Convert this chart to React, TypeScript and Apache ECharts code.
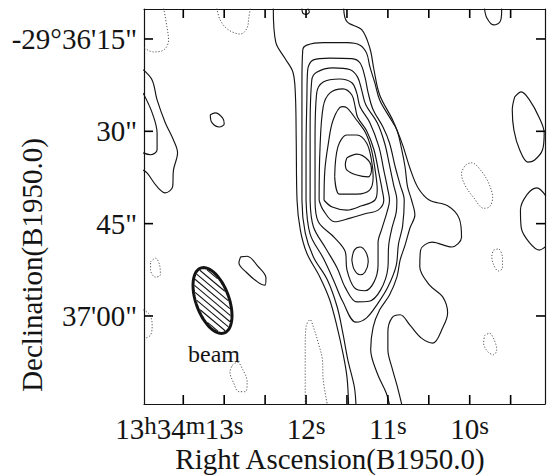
import React, { useEffect, useRef } from "react";
import * as echarts from "echarts";

// x: right ascension, seconds of time after 13h34m ; y: arcsec south of -29°36'00"
const raTicks = [9.5, 10, 10.5, 11, 11.5, 12, 12.5, 13, 13.5];
const raLabelValues = [10, 11, 12, 13];
const raPrefixValue = 13;
const decTicks = [15, 30, 45, 60];
const decLabels = ["-29°36'15\"", "30\"", "45\"", "37'00\""];

// positive (solid) contours
const westRidge1 = [[12.40,10.0],[12.37,15.5],[12.26,18.1],[12.16,20.4],[12.13,24.1],[12.12,31.4],[12.11,41.2],[12.07,46.0],[11.99,49.8],[11.83,53.7],[11.71,57.4],[11.62,61.8],[11.55,66.0],[11.50,69.9],[11.48,74.4]];
const eastRidge1 = [[11.54,10.0],[11.50,12.2],[11.32,13.5],[11.22,16.5],[11.17,20.0],[11.10,24.1],[10.94,28.2],[10.82,32.2],[10.73,36.0],[10.63,39.2],[10.49,41.2],[10.27,42.1],[10.13,44.1],[10.10,47.2],[10.22,48.8],[10.46,48.0],[10.60,49.3],[10.61,52.0],[10.49,55.0],[10.33,56.9],[10.27,59.5],[10.33,61.9],[10.45,64.4],[10.59,63.6],[10.73,61.5],[10.85,59.8],[10.95,60.3],[11.00,62.6],[11.00,65.5],[10.95,68.4],[10.89,71.2],[10.83,74.4]];
const ridge2 = [[11.39,74.4],[11.41,71.5],[11.49,67.1],[11.55,62.8],[11.62,58.5],[11.74,54.1],[11.91,50.4],[12.01,46.5],[12.05,41.2],[12.05,30.3],[12.05,22.1],[12.04,16.8],[11.99,16.0],[11.79,15.6],[11.50,15.6],[11.34,16.0],[11.26,17.3],[11.22,19.5],[11.16,22.1],[11.10,24.9],[10.98,27.7],[10.89,29.8],[10.83,33.0],[10.79,35.8],[10.76,39.0],[10.71,41.2],[10.67,43.6],[10.73,45.7],[10.79,48.5],[10.85,50.9],[10.89,53.7],[10.98,56.6],[11.10,59.0],[11.18,61.8],[11.21,65.5],[11.13,69.3],[11.02,72.5],[10.98,74.4]];
const level3 = [[12.00,41.2],[12.00,33.0],[11.99,24.9],[11.98,20.0],[11.91,18.4],[11.71,18.1],[11.44,18.2],[11.34,18.9],[11.28,21.2],[11.24,23.8],[11.18,26.5],[11.06,29.3],[10.98,31.9],[10.91,35.8],[10.85,38.7],[10.80,41.2],[10.82,45.4],[10.87,48.3],[10.90,51.9],[11.00,55.3],[11.12,57.9],[11.26,60.3],[11.39,61.0],[11.55,57.7],[11.66,54.3],[11.79,50.6],[11.95,46.7]];
const level4 = [[11.95,41.2],[11.95,29.8],[11.93,21.7],[11.87,20.4],[11.67,19.7],[11.46,20.0],[11.37,21.2],[11.32,23.3],[11.27,25.7],[11.13,28.6],[11.04,31.9],[10.98,35.5],[10.93,38.7],[10.89,41.2],[10.90,43.3],[10.95,45.7],[10.99,48.5],[11.00,52.2],[11.09,55.8],[11.23,57.6],[11.38,57.7],[11.52,55.4],[11.62,52.2],[11.76,49.0],[11.91,45.5]];
const level5 = [[11.89,41.2],[11.89,31.4],[11.87,23.8],[11.79,22.0],[11.59,21.5],[11.44,22.1],[11.38,23.8],[11.34,26.0],[11.22,28.6],[11.11,32.5],[11.05,36.3],[11.00,39.5],[10.98,41.2],[11.01,43.1],[11.07,45.7],[11.12,48.1],[11.12,51.7],[11.17,54.5],[11.28,55.9],[11.41,55.4],[11.50,52.5],[11.52,49.6],[11.65,47.3],[11.85,44.7]];
const level6 = [[11.84,41.2],[11.83,33.0],[11.79,26.0],[11.71,23.8],[11.55,23.1],[11.44,24.1],[11.40,26.0],[11.37,27.7],[11.26,29.9],[11.17,33.0],[11.11,36.8],[11.07,39.5],[11.05,41.2],[11.12,42.8],[11.28,43.4],[11.46,44.1],[11.65,44.7],[11.79,42.8]];
const level7 = [[11.78,41.2],[11.77,36.3],[11.73,32.2],[11.67,28.2],[11.56,26.0],[11.50,26.2],[11.38,28.2],[11.27,30.3],[11.20,33.0],[11.15,36.8],[11.13,39.5],[11.16,41.2],[11.32,42.1],[11.50,42.8],[11.68,42.3]];
const level8 = [[11.65,37.4],[11.61,32.5],[11.50,30.6],[11.38,30.6],[11.26,31.9],[11.20,34.7],[11.18,37.4],[11.22,39.5],[11.38,40.2],[11.59,40.2]];
const level9 = [[11.50,34.3],[11.38,33.7],[11.24,34.7],[11.20,36.3],[11.24,37.4],[11.38,37.1],[11.50,36.3],[11.52,35.3]];
const secondPeak = [[11.44,50.9],[11.41,49.3],[11.34,48.8],[11.27,49.6],[11.24,51.2],[11.28,52.9],[11.34,53.3],[11.41,52.5]];
const edgeWestOuter = [[13.99,20.0],[13.88,21.7],[13.82,24.9],[13.72,28.6],[13.62,31.4],[13.57,33.5],[13.62,36.3],[13.63,39.0],[13.72,40.0],[13.82,39.0],[13.94,36.8],[13.99,36.3]];
const edgeWestInner = [[13.99,23.8],[13.88,27.0],[13.82,30.3],[13.82,33.0],[13.90,33.8],[13.99,33.5]];
const knotNW = [[13.17,27.3],[13.11,27.0],[13.02,27.8],[13.00,28.8],[13.06,29.3],[13.15,28.6]];
const knotSW = [[12.80,50.4],[12.72,50.3],[12.59,51.9],[12.49,53.8],[12.50,55.0],[12.59,54.5],[12.73,52.9],[12.82,51.4]];
const capNE = [[9.82,10.0],[9.79,11.6],[9.71,12.7],[9.63,12.2],[9.61,10.6],[9.61,10.0]];
const loopEast = [[9.45,24.4],[9.37,23.6],[9.27,24.9],[9.15,27.8],[9.09,30.3],[9.11,33.0],[9.21,34.7],[9.29,35.0],[9.39,33.0],[9.46,29.8],[9.48,26.5]];
const arcEast = [[9.07,40.5],[9.18,39.2],[9.30,40.3],[9.38,42.8],[9.37,45.7],[9.27,48.1],[9.15,49.3],[9.07,48.7]];
const knotTop = [[12.05,10.0],[12.04,10.8],[12.00,11.0],[11.96,10.6],[11.98,10.0]];

// negative (dotted) contours
const negNW = [[13.74,10.0],[13.70,13.0],[13.68,15.2],[13.74,16.8],[13.87,17.1],[13.99,16.3]];
const negNorth = [[13.09,10.0],[13.05,11.9],[12.95,13.5],[12.80,14.2],[12.72,13.2],[12.70,11.6],[12.68,10.0]];
const negWest1 = [[13.90,51.2],[13.84,50.6],[13.79,51.7],[13.78,53.3],[13.84,53.7],[13.90,52.5]];
const negWest2 = [[13.99,59.0],[13.91,59.8],[13.88,61.5],[13.90,63.1],[13.96,63.6]];
const negSouth = [[12.90,68.0],[12.84,67.5],[12.77,68.8],[12.72,70.7],[12.74,72.3],[12.82,72.3],[12.89,70.7],[12.93,69.1]];
const negStreak = [[12.01,74.4],[12.01,65.5],[12.00,61.8],[11.95,60.6],[11.91,61.8],[11.85,64.4],[11.80,67.1],[11.79,70.4],[11.74,74.4]];
const negEast = [[10.05,35.5],[9.98,35.1],[9.85,36.6],[9.76,38.7],[9.72,40.8],[9.76,42.3],[9.83,42.5],[9.95,40.8],[10.06,38.7],[10.10,36.8]];
const negEast2 = [[9.71,49.3],[9.65,49.1],[9.60,50.6],[9.60,52.2],[9.65,52.7],[9.71,51.6],[9.73,50.3]];
const negEast3 = [[9.82,63.2],[9.76,62.8],[9.70,63.9],[9.67,65.5],[9.71,66.3],[9.78,65.8],[9.83,64.4]];

const solidOpen = [westRidge1, eastRidge1, ridge2, edgeWestOuter, edgeWestInner, capNE, arcEast, knotTop];
const solidClosed = [level3, level4, level5, level6, level7, level8, level9, secondPeak, knotNW, knotSW, loopEast];
const dottedOpen = [negNW, negNorth, negWest2, negStreak];
const dottedClosed = [negWest1, negSouth, negEast, negEast2, negEast3];

const SERIF = "'Liberation Serif', 'Times New Roman', serif";
const INK = "#141414";
const RA_MIN = 9.08, RA_MAX = 13.98;
const DEC_MIN = 10.13, DEC_MAX = 74.3;
const DEC_STEP = 15;
const TICK_LEN = 9;

function buildSeries() {
  const out: any[] = [];
  const add = (pts: number[][], closed: boolean, dotted: boolean) => {
    out.push({
      type: "line",
      xAxisIndex: 0,
      yAxisIndex: 2,
      data: closed ? [...pts, pts[0]] : pts,
      symbol: "none",
      showSymbol: false,
      smooth: 0.35,
      silent: true,
      clip: true,
      lineStyle: dotted
        ? { color: "#555", width: 1, type: [1.2, 1.8] }
        : { color: INK, width: 1.15 },
    });
  };
  solidOpen.forEach((p) => add(p, false, false));
  solidClosed.forEach((p) => add(p, true, false));
  dottedOpen.forEach((p) => add(p, false, true));
  dottedClosed.forEach((p) => add(p, true, true));

  const tickStyle = () => ({ stroke: "#000", lineWidth: 1.6, fill: "none" });
  // inward ticks on the bottom and top frame lines, placed by the RA scale
  out.push({
    type: "custom",
    xAxisIndex: 0,
    yAxisIndex: 2,
    silent: true,
    clip: false,
    z: 10,
    data: raTicks.map((r) => [r, DEC_MIN]),
    renderItem: (params: any, api: any) => {
      const cs = params.coordSys;
      const x = api.coord([api.value(0), DEC_MIN])[0];
      return {
        type: "group",
        children: [
          { type: "line", shape: { x1: x, y1: cs.y, x2: x, y2: cs.y + TICK_LEN }, style: tickStyle() },
          { type: "line", shape: { x1: x, y1: cs.y + cs.height, x2: x, y2: cs.y + cs.height - TICK_LEN }, style: tickStyle() },
        ],
      };
    },
  });
  // inward ticks on the left and right frame lines, placed by the Dec scale
  out.push({
    type: "custom",
    xAxisIndex: 0,
    yAxisIndex: 2,
    silent: true,
    clip: false,
    z: 10,
    data: decTicks.map((d) => [RA_MAX, d]),
    renderItem: (params: any, api: any) => {
      const cs = params.coordSys;
      const y = api.coord([RA_MAX, api.value(1)])[1];
      return {
        type: "group",
        children: [
          { type: "line", shape: { x1: cs.x, y1: y, x2: cs.x + TICK_LEN, y2: y }, style: tickStyle() },
          { type: "line", shape: { x1: cs.x + cs.width, y1: y, x2: cs.x + cs.width - TICK_LEN, y2: y }, style: tickStyle() },
        ],
      };
    },
  });
  return out;
}

function beamGraphics() {
  const cx = 212.5, cy = 300.5, a = 34.5, b = 16.5;
  const tilt = (20 * Math.PI) / 180;
  const u = [Math.sin(tilt), Math.cos(tilt)];
  const v = [Math.cos(tilt), -Math.sin(tilt)];
  const pts: number[][] = [];
  for (let i = 0; i < 90; i++) {
    const t = (i / 90) * Math.PI * 2;
    const lx = b * Math.cos(t), ly = a * Math.sin(t);
    pts.push([cx + lx * v[0] + ly * u[0], cy + lx * v[1] + ly * u[1]]);
  }
  const els: any[] = [];
  const ang = (40 * Math.PI) / 180;
  const d = [Math.cos(ang), Math.sin(ang)];
  const n = [-Math.sin(ang), Math.cos(ang)];
  const ai = a - 1.6, bi = b - 1.6;
  const nv = n[0] * v[0] + n[1] * v[1], dv = d[0] * v[0] + d[1] * v[1];
  const nu = n[0] * u[0] + n[1] * u[1], du = d[0] * u[0] + d[1] * u[1];
  const sp = 5.0;
  for (let k = -7; k <= 7; k++) {
    const o = k * sp;
    const A = (dv * dv) / (bi * bi) + (du * du) / (ai * ai);
    const B = 2 * ((o * nv * dv) / (bi * bi) + (o * nu * du) / (ai * ai));
    const C = (o * nv) ** 2 / (bi * bi) + (o * nu) ** 2 / (ai * ai) - 1;
    const disc = B * B - 4 * A * C;
    if (disc <= 0) continue;
    const s1 = (-B - Math.sqrt(disc)) / (2 * A);
    const s2 = (-B + Math.sqrt(disc)) / (2 * A);
    els.push({
      type: "line",
      silent: true,
      shape: {
        x1: cx + o * n[0] + s1 * d[0], y1: cy + o * n[1] + s1 * d[1],
        x2: cx + o * n[0] + s2 * d[0], y2: cy + o * n[1] + s2 * d[1],
      },
      style: { stroke: INK, lineWidth: 1.1 },
    });
  }
  els.push({
    type: "polygon",
    silent: true,
    shape: { points: pts },
    style: { fill: "none", stroke: INK, lineWidth: 3 },
  });
  return els;
}

const makeRich = () => ({
  n: { fontSize: 29, fontFamily: SERIF, color: INK, lineHeight: 30, verticalAlign: "bottom" },
  sup: { fontSize: 25, fontFamily: SERIF, color: INK, lineHeight: 25, verticalAlign: "top" },
});
const makeLine = () => ({ show: true, onZero: false, lineStyle: { color: INK, width: 1.2 } });

export default function App() {
  const ref = useRef<HTMLDivElement>(null);
  useEffect(() => {
    const chart = echarts.init(ref.current!, null, { renderer: "svg" });
    const xBase = () => ({
      type: "value", min: RA_MIN, max: RA_MAX, inverse: true, splitNumber: 10,
      splitLine: { show: false }, axisLine: makeLine(), axisTick: { show: false },
    });
    const yBase = () => ({
      type: "value", min: DEC_MIN / DEC_STEP, max: DEC_MAX / DEC_STEP, inverse: true, splitNumber: 5,
      splitLine: { show: false }, axisLine: makeLine(), axisTick: { show: false },
    });
    const isInt = (v: number) => Math.abs(v - Math.round(v)) < 1e-6;
    const option: any = {
      animation: false,
      backgroundColor: "#ffffff",
      grid: { left: 144, top: 9, width: 401, height: 395, containLabel: false },
      xAxis: [
        {
          ...xBase(),
          position: "bottom",
          axisLabel: {
            show: true,
            margin: 9,
            formatter: (val: number) => {
              if (!isInt(val)) return "";
              const s = Math.round(val);
              if (raLabelValues.indexOf(s) < 0) return "";
              return `{n|${s}}{sup|s}`;
            },
            rich: makeRich(),
          },
        },
        { ...xBase(), position: "top", axisLabel: { show: false } },
        {
          type: "value", min: RA_MIN, max: RA_MAX, inverse: true, splitNumber: 10, position: "bottom",
          axisLine: { show: false }, axisTick: { show: false }, splitLine: { show: false },
          axisLabel: {
            show: true,
            margin: 9,
            align: "right",
            padding: [0, 19, 0, 0],
            formatter: (val: number) =>
              isInt(val) && Math.round(val) === raPrefixValue ? "{n|13}{sup|h}{n|34}{sup|m}" : "",
            rich: makeRich(),
          },
        },
      ],
      yAxis: [
        {
          ...yBase(),
          position: "left",
          axisLabel: {
            show: true,
            margin: 7,
            fontSize: 29,
            fontFamily: SERIF,
            color: INK,
            formatter: (val: number) => {
              const i = decTicks.indexOf(Math.round(val * DEC_STEP));
              return isInt(val) && i >= 0 ? decLabels[i] : "";
            },
          },
        },
        { ...yBase(), position: "right", axisLabel: { show: false } },
        { type: "value", min: DEC_MIN, max: DEC_MAX, inverse: true, show: false },
      ],
      series: buildSeries(),
      graphic: [
        ...beamGraphics(),
        {
          type: "text", x: 214, y: 354, silent: true,
          style: { text: "beam", fontSize: 24, fontFamily: SERIF, fill: INK, align: "center", verticalAlign: "middle", textAlign: "center", textVerticalAlign: "middle" },
        },
        {
          type: "text", x: 330, y: 459, silent: true,
          style: { text: "Right Ascension(B1950.0)", fontSize: 29, fontFamily: SERIF, fill: INK, align: "center", verticalAlign: "middle", textAlign: "center", textVerticalAlign: "middle" },
        },
        {
          type: "text", x: 32, y: 265, rotation: Math.PI / 2, silent: true,
          style: { text: "Declination(B1950.0)", fontSize: 29, fontFamily: SERIF, fill: INK, align: "center", verticalAlign: "middle", textAlign: "center", textVerticalAlign: "middle" },
        },
      ],
    };
    chart.setOption(option);
    return () => chart.dispose();
  }, []);
  return <div ref={ref} style={{ position: "absolute", left: 0, top: 0, width: 553, height: 476, background: "#fff" }} />;
}
